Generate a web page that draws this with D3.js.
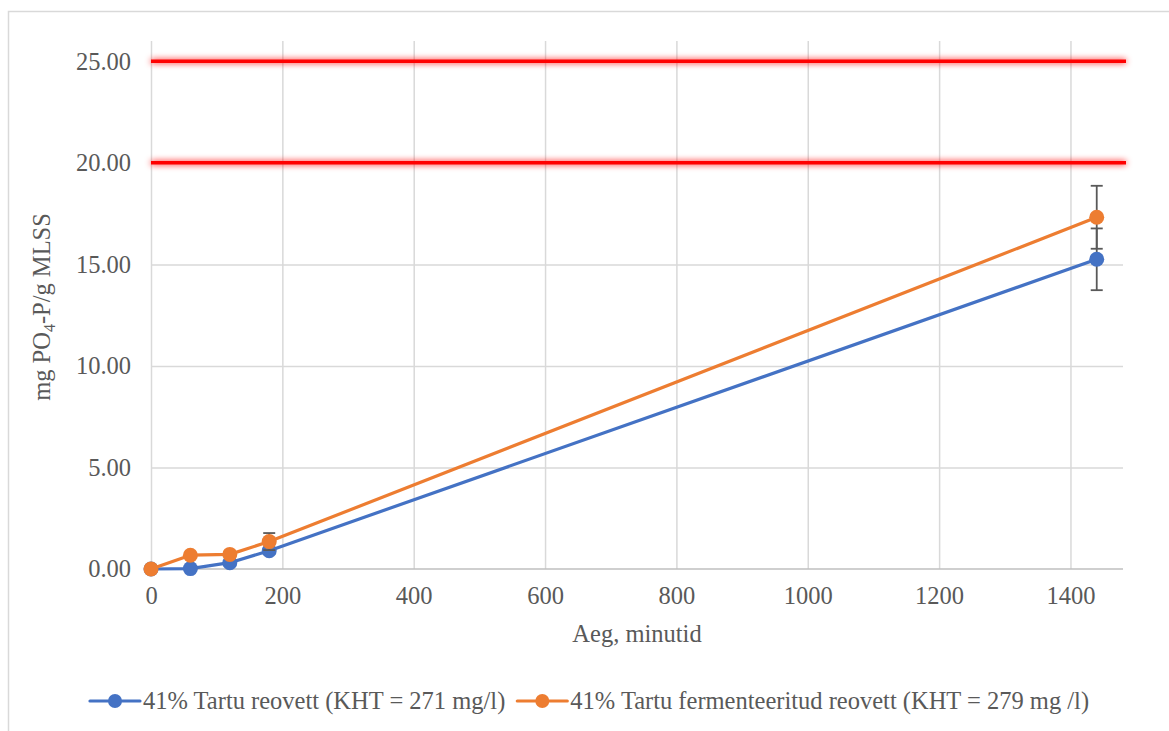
<!DOCTYPE html>
<html>
<head>
<meta charset="utf-8">
<script src="https://cdn.jsdelivr.net/npm/d3@7"></script>
<style>
  html, body { margin: 0; padding: 0; background: #fff; }
  svg { display: block; }
  svg text { font-family: "Liberation Serif", "Times New Roman", serif; }
</style>
</head>
<body>
<svg id="chart" width="1169" height="731"></svg>
<script>
// Sampling times (minutes)
const times = [0, 60, 120, 180, 1440];
// Released phosphate, mg PO4-P per g MLSS
const tartuRaw = [0, 0.02, 0.31, 0.90, 15.25];
const tartuRawErr = [0, 0.05, 0.08, 0.15, 1.52];
const tartuFerm = [0, 0.68, 0.72, 1.35, 17.32];
const tartuFermErr = [0, 0.08, 0.08, 0.42, 1.55];
// Reference levels
const limitLevels = [20, 25];

const xTicks = [0, 200, 400, 600, 800, 1000, 1200, 1400];
const yTicks = [0, 5, 10, 15, 20, 25];

const seriesNames = [
  "41% Tartu reovett (KHT = 271 mg/l)",
  "41% Tartu fermenteeritud reovett (KHT = 279 mg /l)"
];
const seriesColors = ["#4472C4", "#ED7D31"];

const TXT = "#595959";
const FS = 24.5;

const svg = d3.select("#chart");

// outer chart frame
svg.append("rect")
  .attr("x", 8.5).attr("y", 11.5)
  .attr("width", 1200).attr("height", 800)
  .attr("fill", "none").attr("stroke", "#d9d9d9").attr("stroke-width", 1.5);

const plotL = 151, plotR = 1123, plotT = 41, plotB = 569;
const x = d3.scaleLinear().domain([0, 1480]).range([plotL, plotR]);
const y = d3.scaleLinear().domain([0, 26]).range([plotB, plotT]);

const defs = svg.append("defs");
const glow = defs.append("filter").attr("id", "glow")
  .attr("filterUnits", "userSpaceOnUse")
  .attr("x", 0).attr("y", 0).attr("width", 1169).attr("height", 731);
glow.append("feGaussianBlur").attr("in", "SourceGraphic").attr("stdDeviation", 3).attr("result", "b");
const merge = glow.append("feMerge");
merge.append("feMergeNode").attr("in", "b");
merge.append("feMergeNode").attr("in", "SourceGraphic");

// vertical gridlines
svg.append("g")
  .attr("transform", `translate(0,${plotB})`)
  .call(d3.axisBottom(x).tickValues(xTicks).tickSize(-(plotB - plotT)).tickFormat(""))
  .call(g => g.select(".domain").remove())
  .call(g => g.selectAll("line").attr("stroke", "#d9d9d9").attr("stroke-width", 1.5));

// horizontal gridlines
svg.append("g")
  .attr("transform", `translate(${plotL},0)`)
  .call(d3.axisLeft(y).tickValues(yTicks.filter(v => v > 0)).tickSize(-(plotR - plotL)).tickFormat(""))
  .call(g => g.select(".domain").remove())
  .call(g => g.selectAll("line").attr("stroke", "#d9d9d9").attr("stroke-width", 1.5));

// x axis line and labels
const xAxis = svg.append("g")
  .attr("transform", `translate(0,${plotB})`)
  .call(d3.axisBottom(x).tickValues(xTicks).tickSize(0).tickPadding(18).tickFormat(d3.format("d")))
  .attr("font-size", FS);
xAxis.select(".domain").attr("stroke", "#bfbfbf").attr("stroke-width", 1.5)
  .attr("d", `M${plotL},0H${plotR}`);
xAxis.selectAll("text").attr("fill", TXT);

// y axis labels
const yAxis = svg.append("g")
  .attr("transform", `translate(${plotL},0)`)
  .call(d3.axisLeft(y).tickValues(yTicks).tickSize(0).tickPadding(20).tickFormat(d3.format(".2f")))
  .attr("font-size", FS);
yAxis.select(".domain").remove();
yAxis.selectAll("text").attr("fill", TXT);

// reference level lines
svg.append("g").attr("filter", "url(#glow)")
  .selectAll("line").data(limitLevels).join("line")
  .attr("x1", plotL).attr("x2", plotR + 3)
  .attr("y1", d => y(d)).attr("y2", d => y(d))
  .attr("stroke", "#ff0000").attr("stroke-width", 3.5);

const series = [
  { name: seriesNames[0], vals: tartuRaw, err: tartuRawErr, color: seriesColors[0] },
  { name: seriesNames[1], vals: tartuFerm, err: tartuFermErr, color: seriesColors[1] }
];

const line = d3.line().x(d => x(d[0])).y(d => y(d[1]));

series.forEach(s => {
  const pts = times.map((t, i) => [t, s.vals[i], s.err[i]]);
  const g = svg.append("g");
  // error bars
  const eb = g.append("g").selectAll("g").data(pts.filter(p => p[2] > 0)).join("g");
  eb.append("line")
    .attr("x1", d => x(d[0])).attr("x2", d => x(d[0]))
    .attr("y1", d => y(d[1] - d[2])).attr("y2", d => y(d[1] + d[2]))
    .attr("stroke", "#595959").attr("stroke-width", 1.8);
  [-1, 1].forEach(sg => {
    eb.append("line")
      .attr("x1", d => x(d[0]) - 6).attr("x2", d => x(d[0]) + 6)
      .attr("y1", d => y(d[1] + sg * d[2])).attr("y2", d => y(d[1] + sg * d[2]))
      .attr("stroke", "#595959").attr("stroke-width", 1.8);
  });
  g.append("path").datum(pts)
    .attr("d", line).attr("fill", "none")
    .attr("stroke", s.color).attr("stroke-width", 3.2).attr("stroke-linejoin", "round");
  g.append("g").selectAll("circle").data(pts).join("circle")
    .attr("cx", d => x(d[0])).attr("cy", d => y(d[1])).attr("r", 7.5)
    .attr("fill", s.color);
});

// axis titles
svg.append("text")
  .attr("x", (plotL + plotR) / 2).attr("y", 642)
  .attr("text-anchor", "middle").attr("font-size", FS).attr("fill", TXT)
  .text("Aeg, minutid");

const yt = svg.append("text")
  .attr("transform", `translate(50,${(plotT + plotB) / 2 + 2}) rotate(-90)`)
  .attr("text-anchor", "middle").attr("font-size", FS).attr("fill", TXT);
yt.append("tspan").text("mg PO");
yt.append("tspan").text("4").attr("dy", 5).attr("font-size", 16);
yt.append("tspan").text("-P/g MLSS").attr("dy", -5);

// legend: entries laid out left to right
let lx = 90;
series.forEach(s => {
  const lg = svg.append("g").attr("transform", `translate(${lx},701)`);
  lg.append("line").attr("x1", 0).attr("x2", 50).attr("y1", 0).attr("y2", 0)
    .attr("stroke", s.color).attr("stroke-width", 3.2).attr("stroke-linecap", "round");
  lg.append("circle").attr("cx", 25).attr("cy", 0).attr("r", 7).attr("fill", s.color);
  const t = lg.append("text").attr("x", 53).attr("y", 8).attr("font-size", FS).attr("fill", TXT).text(s.name);
  lx += 53 + t.node().getComputedTextLength() + 12;
});
</script>
</body>
</html>
